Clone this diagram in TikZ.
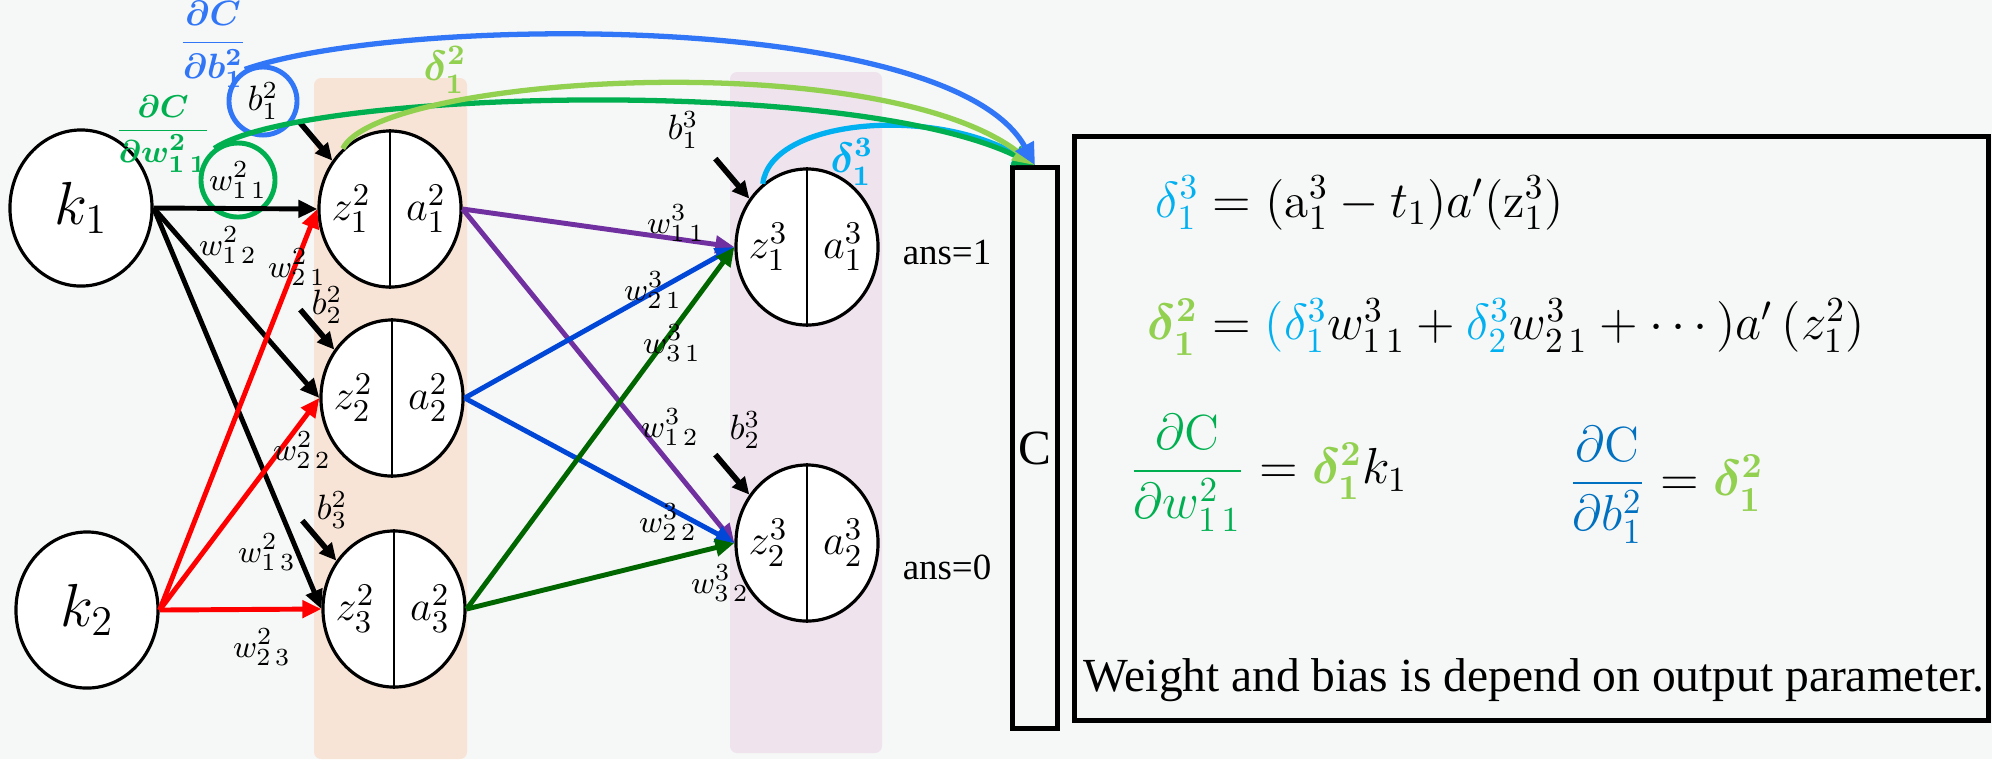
\documentclass[tikz,border=0pt]{standalone}
\usepackage{amsmath}
\usepackage{fontspec}
\newfontfamily\timesfont{Liberation Serif}
\usetikzlibrary{positioning, shapes.geometric, arrows.meta}
\definecolor{bgrey}{RGB}{246,247,247}
\definecolor{peach}{RGB}{248,228,214}
\definecolor{lilac}{RGB}{239,227,238}
\definecolor{dcblue}{RGB}{48,118,246}
\definecolor{dcgreen}{RGB}{0,176,80}
\definecolor{lgreen}{RGB}{146,208,80}
\definecolor{skyblue}{RGB}{0,176,240}
\definecolor{wpurple}{RGB}{112,48,160}
\definecolor{wblue}{RGB}{0,70,215}
\definecolor{wgreen}{RGB}{0,102,0}
\definecolor{eqblue}{RGB}{0,112,192}
\tikzset{
	neuron/.style={ellipse, draw, line width=0.9pt, fill=white, minimum width=1.42cm, minimum height=1.56cm, inner sep=0pt},
	conn/.style={line width=1.4pt, -{Triangle[length=0.19cm,width=0.17cm]}},
	bias/.style={line width=1.6pt, -{Triangle[length=0.17cm,width=0.16cm]}},
	flow/.style={line width=1.5pt, -{Triangle[length=0.22cm,width=0.2cm]}},
	zlab/.style={font=\fontsize{13}{15}\selectfont, inner sep=1pt},
	wlab/.style={font=\fontsize{9.5}{11}\selectfont, inner sep=1pt},
	blab/.style={font=\fontsize{10}{12}\selectfont, inner sep=1pt},
	eq/.style={font=\fontsize{14}{17}\selectfont, inner sep=0pt, anchor=west},
	serif/.style={font=\timesfont\fontsize{10.5}{12}\selectfont}
}
\begin{document}
\begin{tikzpicture}[x=0.01cm, y=-0.01cm]
	\useasboundingbox (0,0) rectangle (1992,759);
	\fill[bgrey] (0,0) rectangle (1992,759);
	\fill[peach, rounded corners=2pt] (314,78) rectangle (467,759);
	\fill[lilac, rounded corners=2pt] (730,72) rectangle (882,753);

	\node[neuron, font=\fontsize{18}{20}\selectfont] (k1) at (81,208) {$k_1$};
	\node[neuron, font=\fontsize{18}{20}\selectfont] (k2) at (87,610) {$k_2$};
	\node[neuron] (h1) at (390,209) {};
	\node[neuron] (h2) at (392,398) {};
	\node[neuron] (h3) at (394,609) {};
	\node[neuron] (o1) at (807,247) {};
	\node[neuron] (o2) at (807,543) {};
	\foreach \n/\l/\i in {h1/2/1, h2/2/2, h3/2/3, o1/3/1, o2/3/2} {
		\draw[line width=0.7pt] (\n.north) -- (\n.south);
		\node[zlab, left=0.15cm of \n.center] (z\n) {$z^{\l}_{\i}$};
		\node[zlab, right=0.12cm of \n.center] (a\n) {$a^{\l}_{\i}$};
		\draw[bias] ([shift={(-34,-40)}]\n.140) -- (\n.140);
	}

	\node[circle, draw=dcblue, line width=1.4pt, minimum size=0.68cm, inner sep=0pt, blab] (bc) at (263,101) {$b^2_1$};
	\node[blab] (b22) at (327,305) {$b^2_2$};
	\node[blab] (b23) at (332,510) {$b^2_3$};
	\node[blab] (b31) at (683,130) {$b^3_1$};
	\node[blab] (b32) at (745,430) {$b^3_2$};
	\node[wlab, circle, draw=dcgreen, line width=1.4pt, minimum size=0.74cm, inner sep=0pt] (w11) at (238,180) {$w^2_{1\,1}$};

	\foreach \t in {h1,h2,h3} \draw[conn] (k1.east) -- (\t.west);
	\foreach \t in {h1,h2,h3} \draw[conn, red] (k2.east) -- (\t.west);
	\foreach \s/\c in {h1/wpurple, h2/wblue, h3/wgreen}
		\foreach \t in {o1,o2} \draw[conn, \c] (\s.east) -- (\t.west);

	\node[wlab] (w12) at (228,245) {$w^2_{1\,2}$};
	\node[wlab] (w21) at (297,267) {$w^2_{2\,1}$};
	\node[wlab] (w22) at (302,450) {$w^2_{2\,2}$};
	\node[wlab] (w13) at (267,552) {$w^2_{1\,3}$};
	\node[wlab] (w23) at (262,647) {$w^2_{2\,3}$};
	\node[wlab] (v11) at (676,223) {$w^3_{1\,1}$};
	\node[wlab] (v21) at (653,290) {$w^3_{2\,1}$};
	\node[wlab] (v31) at (672,343) {$w^3_{3\,1}$};
	\node[wlab] (v12) at (670,427) {$w^3_{1\,2}$};
	\node[wlab] (v22) at (668,522) {$w^3_{2\,2}$};
	\node[wlab] (v32) at (720,583) {$w^3_{3\,2}$};

	\node[serif] (ans1) at (947,252) {ans=1};
	\node[serif] (ans0) at (947,567) {ans=0};
	\node[draw, line width=1.5pt, minimum width=0.45cm, minimum height=5.6cm, inner sep=0pt, font=\timesfont\fontsize{14}{16}\selectfont] (C) at (1035,448) {C};

	\node[text=dcblue, font=\fontsize{10}{12}\selectfont, inner sep=0pt] (dcdb) at (213,44) {$\boldsymbol{\dfrac{\partial C}{\partial b^2_1}}$};
	\node[text=dcgreen, font=\fontsize{9.5}{11}\selectfont, inner sep=0pt] (dcdw) at (163,134) {$\boldsymbol{\dfrac{\partial C}{\partial w^2_{1\,1}}}$};
	\node[text=lgreen, font=\fontsize{12}{14}\selectfont] (d21) at (445,70) {$\boldsymbol{\delta^2_1}$};
	\node[text=skyblue, font=\fontsize{12}{14}\selectfont] (d31) at (852,162) {$\boldsymbol{\delta^3_1}$};

	\draw[flow, skyblue] (o1.125) .. controls (770,120) and (930,105) .. (C.north);
	\draw[flow, dcgreen] (w11.127) .. controls (300,90) and (850,75) .. (C.north);
	\draw[flow, lgreen] (h1.128) .. controls (380,75) and (880,45) .. (C.north);
	\draw[flow, dcblue] (bc.120) .. controls (400,15) and (950,10) .. (C.north);

	\node[draw, line width=1.4pt, minimum width=9.13cm, minimum height=5.83cm, inner sep=0pt] (box) at (1531.5,428.5) {};
	\node[eq] (eq1) at (1155,203) {$\textcolor{skyblue}{\delta^3_1} = (\mathrm{a}^3_1 - t_1)a'(\mathrm{z}^3_1)$};
	\node[eq] (eq2) at (1147,327) {$\textcolor{lgreen}{\boldsymbol{\delta^2_1}} = \textcolor{skyblue}{(\delta^3_1}w^3_{1\,1} + \textcolor{skyblue}{\delta^3_2}w^3_{2\,1} + \cdots)a'\,(z^2_1)$};
	\node[eq] (eq3) at (1129,473) {$\textcolor{dcgreen}{\dfrac{\partial\mathrm{C}}{\partial w^2_{1\,1}}} = \textcolor{lgreen}{\boldsymbol{\delta^2_1}}k_1$};
	\node[eq] (eq4) at (1568,485) {$\textcolor{eqblue}{\dfrac{\partial\mathrm{C}}{\partial b^2_1}} = \textcolor{lgreen}{\boldsymbol{\delta^2_1}}$};
	\node[font=\timesfont\fontsize{13.5}{16}\selectfont, inner sep=0pt] (note) at (1534,680) {Weight and bias is depend on output parameter.};
\end{tikzpicture}
\end{document}
